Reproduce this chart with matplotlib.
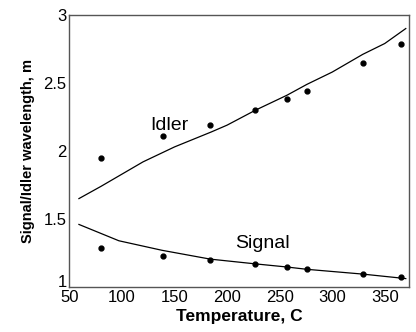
import numpy as np
import matplotlib.pyplot as plt
import matplotlib.transforms as mtransforms

plt.rcParams['font.family'] = ['Liberation Sans', 'DejaVu Sans']

# measured points
temp_pts = [80, 139, 184, 227, 257, 276, 329, 365]
idler_pts = [1.95, 2.11, 2.19, 2.30, 2.38, 2.44, 2.65, 2.79]
signal_pts = [1.285, 1.23, 1.20, 1.17, 1.15, 1.13, 1.095, 1.07]

# calculated curves
temp_fit = [59, 80, 100, 120, 150, 185, 200, 227, 257, 276, 300, 329, 350, 370]
idler_fit = [1.65, 1.74, 1.83, 1.92, 2.03, 2.14, 2.19, 2.30, 2.41, 2.49, 2.58, 2.71, 2.79, 2.90]
temp_sig = [59, 78, 97, 138, 184, 227, 257, 276, 329, 365, 370]
signal_fit = [1.46, 1.40, 1.34, 1.27, 1.205, 1.17, 1.147, 1.13, 1.095, 1.066, 1.062]

fig = plt.figure(figsize=(4.16, 3.32), dpi=100)
ax = fig.add_axes([0.167, 0.1355, 0.816, 0.8195])

ax.plot(temp_fit, idler_fit, color='black', lw=0.9)
ax.plot(temp_sig, signal_fit, color='black', lw=0.9)
ax.plot(temp_pts, idler_pts, 'o', color='black', ms=3.5)
ax.plot(temp_pts, signal_pts, 'o', color='black', ms=3.5)

ax.text(127, 2.19, 'Idler', fontsize=14, va='center')
ax.text(208, 1.32, 'Signal', fontsize=14, va='center')

ax.set_xlim(50, 373)
ax.set_ylim(1, 3)
ax.set_xticks([50, 100, 150, 200, 250, 300, 350])
ax.set_yticks([1, 1.5, 2, 2.5, 3])
ax.set_yticklabels(['1', '1.5', '2', '2.5', '3'])
ax.tick_params(length=0, labelsize=12, pad=2)

# the "1" sits a little above the corner in the original
lab1 = ax.get_yticklabels()[0]
lab1.set_transform(lab1.get_transform() + mtransforms.ScaledTranslation(0, 6 / 100, fig.dpi_scale_trans))

for s in ax.spines.values():
    s.set_color('#555555')
    s.set_linewidth(1.0)

ax.set_xlabel('Temperature, C', fontsize=12.5, fontweight='bold', labelpad=3)
ax.set_ylabel('Signal/Idler wavelength, m', fontsize=10.5, fontweight='bold', labelpad=6)

fig.savefig('out.png', dpi=100)
